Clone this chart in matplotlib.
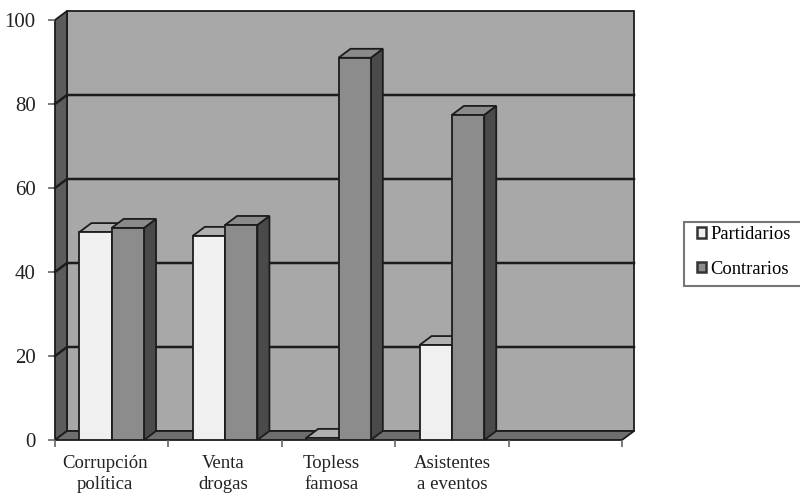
import matplotlib
matplotlib.use('Agg')
import matplotlib.pyplot as plt
from matplotlib.patches import Polygon, Patch, Rectangle
from matplotlib.transforms import ScaledTranslation

categorias = ['Corrupción\npolítica', 'Venta\ndrogas', 'Topless\nfamosa', 'Asistentes\na eventos', '']
partidarios = [49.5, 48.6, 0.5, 22.6]
contrarios = [50.5, 51.2, 91, 77.4]
yticks = [0, 20, 40, 60, 80, 100]

plt.rcParams['font.family'] = ['Liberation Serif', 'DejaVu Serif']

W, H = 800, 495
fig = plt.figure(figsize=(W / 100, H / 100), dpi=100)
ax = fig.add_axes([55 / W, (H - 440) / H, (634 - 55) / W, (440 - 11) / H])
ax.set_xlim(0, 579 / 113.4)
ax.set_ylim(0, 429 / 4.2)
ax.patch.set_visible(False)

# profundidad del efecto 3D, en unidades de datos
dx = 12 / 113.4
dy = 9 / 4.2
n = 5
borde = '#1c1c1c'


def cara(puntos, color, z, lw=1.3):
    ax.add_patch(Polygon(puntos, closed=True, facecolor=color, edgecolor=borde,
                         linewidth=lw, zorder=z, clip_on=False, joinstyle='miter'))


# paredes
cara([(dx, dy), (n + dx, dy), (n + dx, 100 + dy), (dx, 100 + dy)], '#a8a8a8', 1)
cara([(0, 0), (dx, dy), (dx, 100 + dy), (0, 100)], '#5c5c5c', 1)
cara([(0, 0), (n, 0), (n + dx, dy), (dx, dy)], '#6e6e6e', 1)

# rejilla
for v in yticks[1:-1]:
    ax.plot([0, dx, n + dx], [v, v + dy, v + dy], color=borde, lw=1.8, zorder=2, clip_on=False)


def barra(x0, ancho, v, frente, arriba, lado):
    x1 = x0 + ancho
    cara([(x1, 0), (x1 + dx, dy), (x1 + dx, v + dy), (x1, v)], lado, 3)
    cara([(x0, v), (x1, v), (x1 + dx, v + dy), (x0 + dx, v + dy)], arriba, 3)
    ax.bar(x0, v, width=ancho, align='edge', color=frente, edgecolor=borde,
           linewidth=1.3, zorder=3)


ancho = 0.285
for i in range(len(partidarios)):
    barra(i + 0.5 - ancho, ancho, partidarios[i], '#f0f0f0', '#b0b0b0', '#5a5a5a')
    barra(i + 0.5, ancho, contrarios[i], '#8c8c8c', '#8a8a8a', '#4a4a4a')

for lado in ['top', 'right', 'left', 'bottom']:
    ax.spines[lado].set_visible(False)

ax.set_yticks(yticks)
ax.set_xticks(range(n + 1))
ax.set_xticklabels([])
ax.set_xticks([i + 0.5 for i in range(n)], minor=True)
ax.set_xticklabels(categorias, minor=True, fontsize=13.5, linespacing=1.3, color='#222222')
ax.tick_params(axis='x', which='major', length=5, width=1.2, color='#666666')
ax.tick_params(axis='x', which='minor', length=0, pad=11)
ax.tick_params(axis='y', length=5, width=1.2, color='#666666', pad=9, labelsize=15, labelcolor='#222222')

# las etiquetas no quedan centradas del todo en el original
desplaz = [-7, -2, -7, 0, 0]
for lab, d in zip(ax.get_xticklabels(minor=True), desplaz):
    lab.set_transform(lab.get_transform() + ScaledTranslation(d / 100, 0, fig.dpi_scale_trans))

fig.add_artist(Rectangle((684 / W, (H - 286) / H), 130 / W, 64 / H, transform=fig.transFigure,
                         facecolor='white', edgecolor='#777777', linewidth=1.5))
handles = [Patch(facecolor='#f0f0f0', edgecolor='#333333', linewidth=1.8, label='Partidarios'),
           Patch(facecolor='#8c8c8c', edgecolor='#333333', linewidth=1.8, label='Contrarios')]
leg = fig.legend(handles=handles, loc='upper left', bbox_to_anchor=(697 / W, (H - 226) / H),
                 fontsize=13.3, frameon=False,
                 handlelength=0.5, handleheight=0.5, handletextpad=0.2, labelspacing=0.95,
                 borderpad=0, borderaxespad=0)

fig.savefig('out.png', dpi=100)
